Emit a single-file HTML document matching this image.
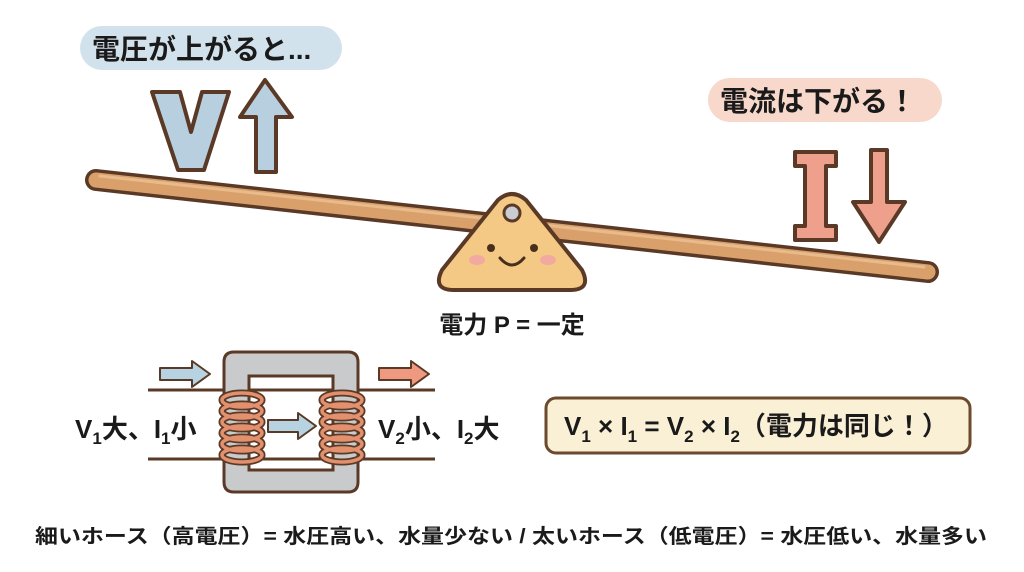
<!DOCTYPE html>
<html><head><meta charset="utf-8"><style>
html,body{margin:0;padding:0;background:#fff;}
svg{display:block;}
text{font-family:"Liberation Sans","Noto Sans CJK JP",sans-serif;font-weight:bold;fill:#1a1a1a;}
</style></head><body>
<svg width="1024" height="572" viewBox="0 0 1024 572" xmlns="http://www.w3.org/2000/svg">
<rect width="1024" height="572" fill="#fff"/>
<rect x="80" y="26" width="262" height="44" rx="22" fill="#d2e2ec"/>
<text x="92" y="59" font-size="28">電圧が上がると...</text>
<path d="M152,92 L180,92 L191,132 L202,92 L229,92 L204,170 L178,170 Z" fill="#b7cfdf" stroke="#5a3a26" stroke-width="4" stroke-linejoin="round"/>
<path d="M265,80 L292,117 L276,117 L276,172 L256,172 L256,117 L240,117 Z" fill="#b7cfdf" stroke="#5a3a26" stroke-width="4" stroke-linejoin="round"/>
<rect x="708" y="78" width="234" height="44" rx="22" fill="#f8d8ca"/>
<text x="720" y="111" font-size="28">電流は下がる！</text>
<path d="M795,152 L836,152 L836,166 L826,166 L826,226 L836,226 L836,240 L795,240 L795,226 L805,226 L805,166 L795,166 Z" fill="#eea08c" stroke="#5a3a26" stroke-width="4" stroke-linejoin="round"/>
<path d="M871,150 L887,150 L887,202 L905,202 L879,242 L853,202 L871,202 Z" fill="#eea08c" stroke="#5a3a26" stroke-width="4" stroke-linejoin="round"/>
<line x1="96" y1="180" x2="928" y2="272" stroke="#5a3a26" stroke-width="22" stroke-linecap="round"/>
<line x1="96" y1="180" x2="928" y2="272" stroke="#d9a06b" stroke-width="15" stroke-linecap="round"/>
<line x1="100" y1="176" x2="924" y2="267" stroke="#e8bb8c" stroke-width="3" stroke-linecap="round"/>
<path d="M498,200 Q512,188 526,200 L582,270 Q592,290 570,290 L454,290 Q432,290 442,270 Z" fill="#f3c985" stroke="#5a3a26" stroke-width="4" stroke-linejoin="round"/>
<circle cx="512" cy="213" r="8" fill="#c9ccd0" stroke="#5a3a26" stroke-width="3"/>
<circle cx="491" cy="248" r="4" fill="#4a2e1c"/>
<circle cx="534" cy="248" r="4" fill="#4a2e1c"/>
<ellipse cx="477" cy="260" rx="8" ry="5" fill="#f2a9a0"/>
<ellipse cx="548" cy="260" rx="8" ry="5" fill="#f2a9a0"/>
<path d="M500,258 Q512,272 524,258" fill="none" stroke="#4a2e1c" stroke-width="3" stroke-linecap="round"/>
<text x="512" y="333" font-size="24" text-anchor="middle">電力 P = 一定</text>
<line x1="148" y1="390" x2="435" y2="390" stroke="#5a3a26" stroke-width="3"/>
<line x1="148" y1="459" x2="435" y2="459" stroke="#5a3a26" stroke-width="3"/>
<path fill-rule="evenodd" d="M234,352 H348 Q358,352 358,362 V482 Q358,492 348,492 H234 Q224,492 224,482 V362 Q224,352 234,352 Z M249,376 V470 H333 V376 Z" fill="#c9cacc" stroke="#5a3a26" stroke-width="3"/>
<g fill="none" stroke="#5a3a26" stroke-width="7">
<ellipse cx="242" cy="400" rx="20" ry="7"/><ellipse cx="242" cy="411" rx="20" ry="7"/><ellipse cx="242" cy="422" rx="20" ry="7"/><ellipse cx="242" cy="433" rx="20" ry="7"/><ellipse cx="242" cy="444" rx="20" ry="7"/><ellipse cx="242" cy="455" rx="20" ry="7"/>
<ellipse cx="342" cy="400" rx="20" ry="7"/><ellipse cx="342" cy="411" rx="20" ry="7"/><ellipse cx="342" cy="422" rx="20" ry="7"/><ellipse cx="342" cy="433" rx="20" ry="7"/><ellipse cx="342" cy="444" rx="20" ry="7"/><ellipse cx="342" cy="455" rx="20" ry="7"/>
</g>
<g fill="none" stroke="#e3906e" stroke-width="3.5">
<ellipse cx="242" cy="400" rx="20" ry="7"/><ellipse cx="242" cy="411" rx="20" ry="7"/><ellipse cx="242" cy="422" rx="20" ry="7"/><ellipse cx="242" cy="433" rx="20" ry="7"/><ellipse cx="242" cy="444" rx="20" ry="7"/><ellipse cx="242" cy="455" rx="20" ry="7"/>
<ellipse cx="342" cy="400" rx="20" ry="7"/><ellipse cx="342" cy="411" rx="20" ry="7"/><ellipse cx="342" cy="422" rx="20" ry="7"/><ellipse cx="342" cy="433" rx="20" ry="7"/><ellipse cx="342" cy="444" rx="20" ry="7"/><ellipse cx="342" cy="455" rx="20" ry="7"/>
</g>
<path d="M160,368 H192 V361 L210,374 L192,387 V380 H160 Z" fill="#b7d3e2" stroke="#5a3a26" stroke-width="2" stroke-linejoin="round"/>
<path d="M379,368 H411 V361 L429,374 L411,387 V380 H379 Z" fill="#ef9a80" stroke="#5a3a26" stroke-width="2" stroke-linejoin="round"/>
<path d="M268,420 H298 V413 L316,426 L298,439 V432 H268 Z" fill="#b7d3e2" stroke="#5a3a26" stroke-width="2" stroke-linejoin="round"/>
<text x="75" y="438" font-size="26">V<tspan font-size="17" dy="6">1</tspan><tspan dy="-6">大、I</tspan><tspan font-size="17" dy="6">1</tspan><tspan dy="-6">小</tspan></text>
<text x="378" y="438" font-size="26">V<tspan font-size="17" dy="6">2</tspan><tspan dy="-6">小、I</tspan><tspan font-size="17" dy="6">2</tspan><tspan dy="-6">大</tspan></text>
<rect x="546" y="398" width="424" height="55" rx="10" fill="#faf0d6" stroke="#6b4a2e" stroke-width="3"/>
<text x="564" y="435" font-size="26">V<tspan font-size="17" dy="7">1</tspan><tspan dy="-7"> × I</tspan><tspan font-size="17" dy="7">1</tspan><tspan dy="-7"> = V</tspan><tspan font-size="17" dy="7">2</tspan><tspan dy="-7"> × I</tspan><tspan font-size="17" dy="7">2</tspan><tspan dy="-7">（電力は同じ！）</tspan></text>
<text x="35" y="543" font-size="20" textLength="952" lengthAdjust="spacingAndGlyphs">細いホース（高電圧）= 水圧高い、水量少ない / 太いホース（低電圧）= 水圧低い、水量多い</text>
</svg>
</body></html>
